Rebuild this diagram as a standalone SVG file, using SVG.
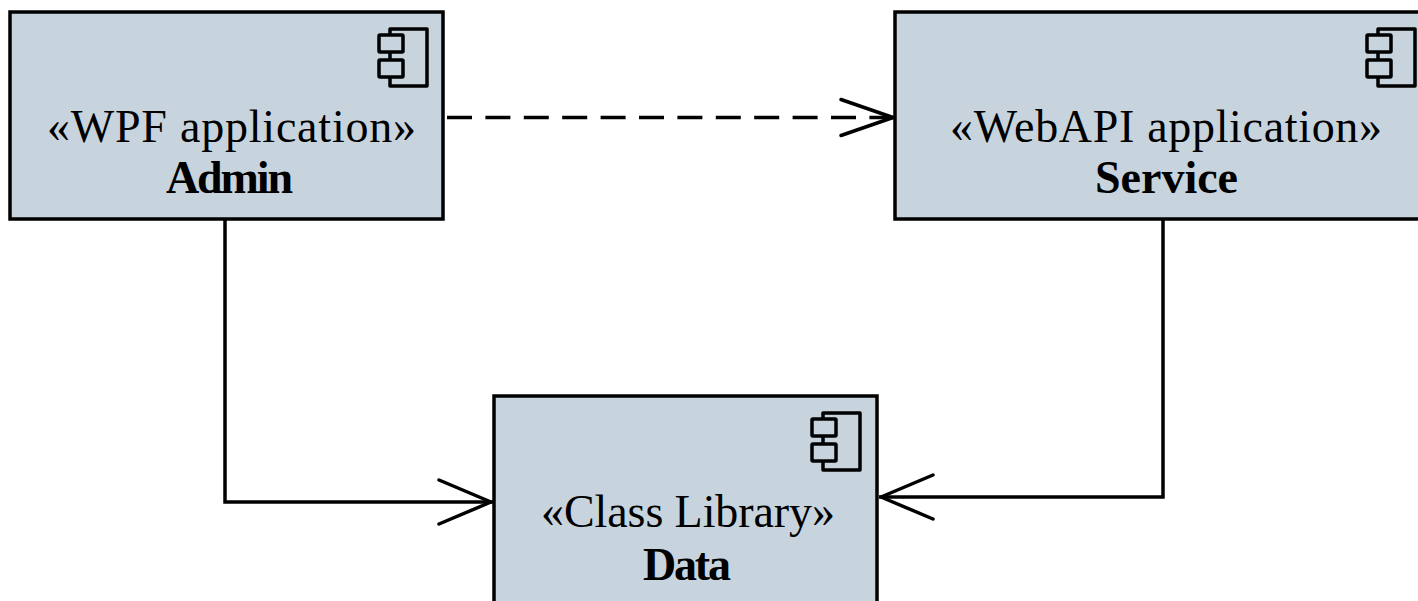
<svg xmlns="http://www.w3.org/2000/svg" width="1418" height="601" viewBox="0 0 1418 601">
<defs>
<g id="icon"><path d="M11 6V0H48V57H11V48M11 23V31" fill="none" stroke="#000" stroke-width="3.5" stroke-linejoin="round"/><rect x="0" y="6" width="24" height="17" rx="1" fill="none" stroke="#000" stroke-width="3.5"/><rect x="0" y="31" width="24" height="17" rx="1" fill="none" stroke="#000" stroke-width="3.5"/></g>
<marker id="openS" markerUnits="userSpaceOnUse" markerWidth="70" markerHeight="60" refX="60" refY="30" orient="auto"><path d="M6 12L58 30L6 48" fill="none" stroke="#000" stroke-width="3.5" stroke-linecap="round" stroke-linejoin="round"/></marker>
<marker id="openL" markerUnits="userSpaceOnUse" markerWidth="70" markerHeight="60" refX="60" refY="30" orient="auto"><path d="M6 8L58 30L6 52" fill="none" stroke="#000" stroke-width="3.5" stroke-linecap="round" stroke-linejoin="round"/></marker>
</defs>
<style>
.box{fill:#c7d4dd;stroke:#000;stroke-width:3.5}
.t{font-family:"Liberation Serif","Times New Roman",serif;font-size:46px;text-anchor:middle;fill:#000}
.b{font-weight:bold}
.c{fill:none;stroke:#000;stroke-width:3.5}
</style>
<rect width="1418" height="601" fill="#fff"/>
<g id="connectors">
<path class="c" d="M447 117.5H895" stroke-dasharray="25 13.4" marker-end="url(#openS)"/>
<path class="c" d="M225 220V502H493" marker-end="url(#openL)"/>
<path class="c" d="M1163 220V497H879" marker-end="url(#openL)"/>
</g>
<g id="admin"><rect class="box" x="10" y="12" width="433" height="207"/><use href="#icon" x="379" y="29"/><text class="t" x="231.5" y="142" textLength="369">«WPF application»</text><text class="t b" x="229.5" y="193" textLength="127">Admin</text></g>
<g id="service"><rect class="box" x="895" y="12" width="530" height="207"/><use href="#icon" x="1367" y="29"/><text class="t" x="1166" y="142" textLength="432">«WebAPI application»</text><text class="t b" x="1166.5" y="193" textLength="143">Service</text></g>
<g id="data"><rect class="box" x="494" y="396" width="383" height="215"/><use href="#icon" x="812" y="413"/><text class="t" x="688" y="527" textLength="294">«Class Library»</text><text class="t b" x="687" y="580" textLength="88">Data</text></g>
</svg>
